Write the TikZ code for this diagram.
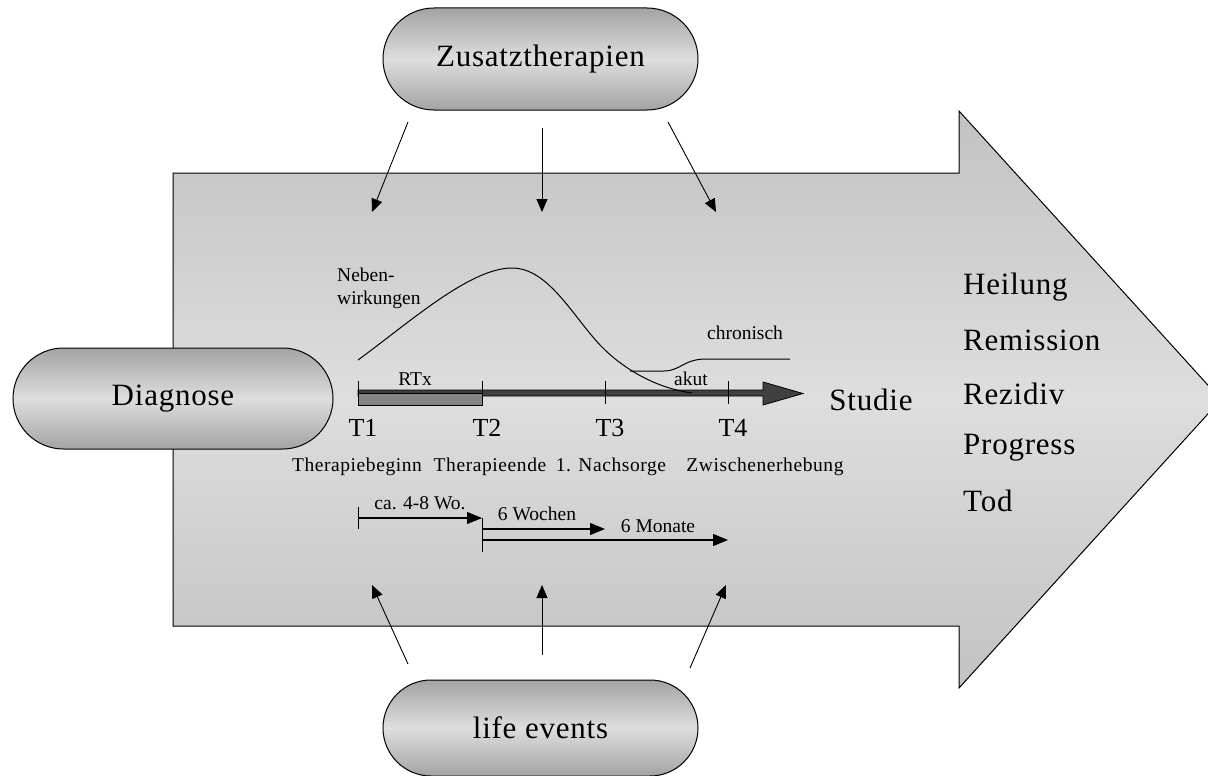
\documentclass[tikz,border=0pt]{standalone}
\usepackage{fontspec}
\setmainfont{Liberation Serif}
\newfontfamily\rowfont[LetterSpace=3]{Liberation Serif}
\newfontfamily\bigfont[LetterSpace=2.5]{Liberation Serif}
\usetikzlibrary{arrows.meta,shapes.misc}
\begin{document}
\begin{tikzpicture}[x=1pt,y=-1pt,
  pill/.style={rounded rectangle, draw=black, line width=1pt,
    top color=gray!72, bottom color=gray!72, middle color=gray!26,
    minimum width=315pt, minimum height=102pt, inner sep=0pt,
    font=\bigfont\fontsize{31}{36}\selectfont},
  arr/.style={-{Triangle[length=13pt,width=11pt]}, line width=0.9pt},
  tarr/.style={-{Triangle[length=15pt,width=12pt]}, line width=1.1pt},
  small/.style={font=\fontsize{19.5}{22}\selectfont, inner sep=0pt},
  rowlab/.style={font=\rowfont\fontsize{19.5}{22}\selectfont, inner sep=0pt},
  tlab/.style={font=\fontsize{26}{30}\selectfont, inner sep=0pt},
  big/.style={font=\bigfont\fontsize{31}{36}\selectfont, inner sep=0pt},
  tick/.style={line width=1pt}
]
\useasboundingbox (0,0) rectangle (1208,776);
% big arrow
\shade[top color=gray!48, bottom color=gray!48, middle color=gray!26, draw=black, line width=1pt]
  (173,173) -- (959,173) -- (959,111) -- (1221,399.5) -- (959,688) -- (959,626) -- (173,626) -- cycle;

% pills
\node[pill, minimum width=320pt, minimum height=101pt] (diag) at (173,398.5) {Diagnose};
\node[pill] (zus) at (540.5,59) {Zusatztherapien};
\node[pill, minimum height=96pt] (life) at (540.5,728) {life events};

% arrows from Zusatztherapien
\coordinate (za) at (408,122); \coordinate (zae) at (372,212);
\coordinate (zb) at (542,128); \coordinate (zbe) at (542,212);
\coordinate (zc) at (668,122); \coordinate (zce) at (716,212);
\draw[arr] (za) -- (zae);
\draw[arr] (zb) -- (zbe);
\draw[arr] (zc) -- (zce);
% arrows from life events
\coordinate (la) at (408,664); \coordinate (lae) at (372,585);
\coordinate (lb) at (542,655); \coordinate (lbe) at (542,585);
\coordinate (lc) at (690,668); \coordinate (lce) at (726,585);
\draw[arr] (la) -- (lae);
\draw[arr] (lb) -- (lbe);
\draw[arr] (lc) -- (lce);

% timeline
\coordinate (T1) at (358,393);
\coordinate (T2) at (482,393);
\coordinate (T3) at (605,393);
\coordinate (T4) at (728,393);
\draw[fill=black!75, line width=0.8pt]
  (358,390) -- (763,390) -- (763,382) -- (803,393.5) -- (763,405) -- (763,396) -- (358,396) -- cycle;
\draw[fill=black!48, line width=1pt] (358,393.5) rectangle (482,405);
\foreach \t in {T1,T2,T3,T4} \draw[tick] ([yshift=-11pt]\t) -- ([yshift=12pt]\t);
\node[small] (rtx) at (415,379) {RTx};
\node[big, anchor=center] (studie) at (871,400) {Studie};

\node[tlab] (t1l) at (363,428) {T1};
\node[tlab] (t2l) at (487,428) {T2};
\node[tlab] (t3l) at (610,428) {T3};
\node[tlab] (t4l) at (733,428) {T4};

\node[rowlab] (b1) at (357,467) {Therapiebeginn};
\node[rowlab] (b2) at (490,467) {Therapieende};
\node[rowlab] (b3) at (611,467) {1. Nachsorge};
\node[rowlab] (b4) at (765,467) {Zwischenerhebung};

% side effects curve
\coordinate (c0) at (358,360);
\coordinate (cp) at (512,268);
\coordinate (cm) at (600,345);
\coordinate (ce) at (692,393);
\coordinate (ca) at (630,371);
\draw[line width=1pt] (c0) .. controls (410,322) and (470,268) .. (cp)
  .. controls (548,268) and (572,315) .. (cm)
  .. controls (622,368) and (655,388) .. (ce);
\draw[line width=1pt] (ca) -- (664,371) .. controls (680,371) and (684,359) .. (706,359) -- (790,359);
\node[small, anchor=west, align=left] (neben) at (337,288.5) {Neben-\\[1pt]wirkungen};
\node[small] (chron) at (745,333) {chronisch};
\node[small] (akut) at (691,379) {akut};

% durations
\coordinate (d1) at (358,518);
\coordinate (d2) at (482,518);
\coordinate (w1) at (482,529);
\coordinate (w2) at (605,529);
\coordinate (m1) at (482,540);
\coordinate (m2) at (728,540);
\draw[tick] (358,507) -- (358,529);
\draw[tick] (482,518) -- (482,552);
\draw[tarr] (d1) -- (d2);
\draw[tarr] (w1) -- (w2);
\draw[tarr] (m1) -- (m2);
\node[small] (d) at (420,503) {ca. 4-8 Wo.};
\node[small] (w) at (537,514) {6 Wochen};
\node[small] (m) at (658,526) {6 Monate};

% outcomes
\node[big, anchor=west] (o1) at (963,287) {Heilung};
\node[big, anchor=west] (o2) at (963,340.5) {Remission};
\node[big, anchor=west] (o3) at (963,394) {Rezidiv};
\node[big, anchor=west] (o4) at (963,447.5) {Progress};
\node[big, anchor=west] (o5) at (963,501) {Tod};
\end{tikzpicture}
\end{document}
